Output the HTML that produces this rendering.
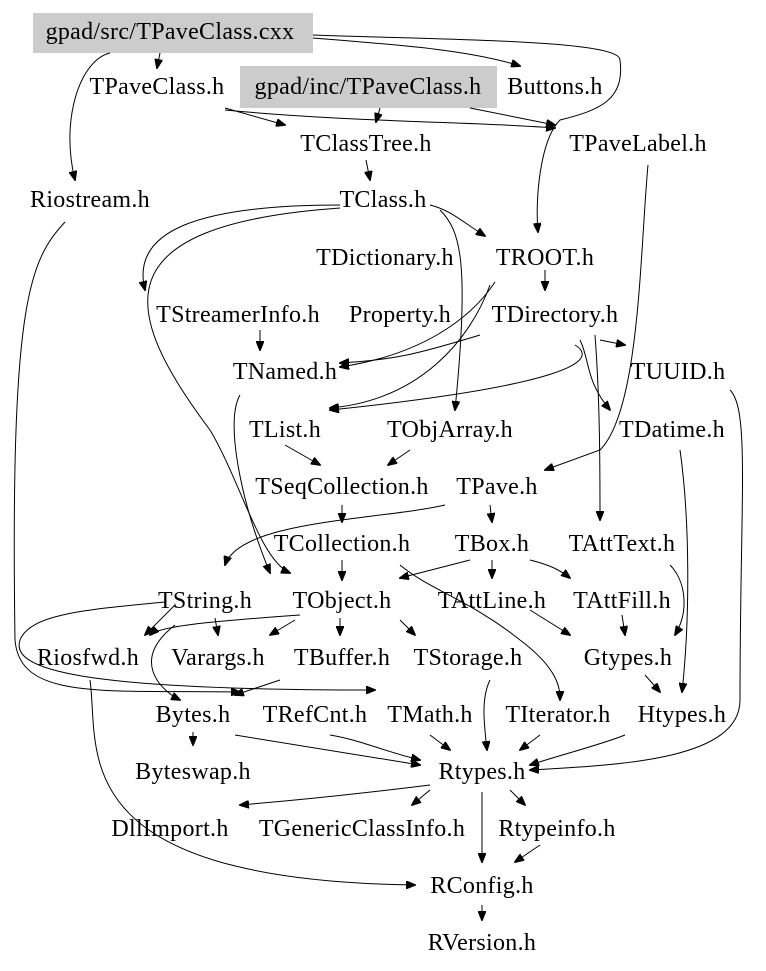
<!DOCTYPE html>
<html><head><meta charset="utf-8"><style>
html,body{margin:0;padding:0;background:#fff;}
svg{display:block}
text{font-family:"Liberation Serif",serif;font-size:24px;letter-spacing:0.3px;fill:#000;text-anchor:middle}
path{fill:none;stroke:#000;stroke-width:1}
</style></head><body>
<svg width="766" height="971" viewBox="0 0 766 971" xmlns="http://www.w3.org/2000/svg">
<defs><marker id="a" markerWidth="10" markerHeight="8" refX="9" refY="4" orient="auto" markerUnits="userSpaceOnUse"><path d="M0,0 L10,4 L0,8 z" style="fill:#000;stroke:#000"/></marker></defs>
<rect x="33" y="13" width="280" height="40" fill="#cccccc"/>
<rect x="240" y="66" width="257" height="42" fill="#cccccc"/>
<g marker-end="url(#a)">
<path d="M110,53 C80,60 60,120 75,180"/>
<path d="M160,53 L157,68"/>
<path d="M313,38 C400,45 470,50 520,66"/>
<path d="M313,35 C450,40 620,40 620,60 C625,100 600,110 560,120 C540,140 535,200 538,232"/>
<path d="M225,108 L285,125"/>
<path d="M225,110 C350,122 480,122 555,128"/>
<path d="M380,108 L376,122"/>
<path d="M470,108 L555,125"/>
<path d="M366,160 L370,180"/>
<path d="M430,205 C450,210 460,220 485,236"/>
<path d="M440,210 C460,230 470,260 455,410"/>
<path d="M340,205 C200,205 130,230 145,290"/>
<path d="M340,208 C100,225 120,310 210,430 C240,480 260,560 290,573"/>
<path d="M545,270 L545,290"/>
<path d="M495,282 C470,320 420,355 340,367"/>
<path d="M490,285 C470,340 420,400 330,408"/>
<path d="M480,335 C430,350 400,360 340,363"/>
<path d="M575,345 C600,360 570,385 330,410"/>
<path d="M580,340 C590,360 585,380 610,410"/>
<path d="M600,340 L625,345"/>
<path d="M260,330 L260,350"/>
<path d="M240,395 C225,420 240,500 270,573"/>
<path d="M285,445 L320,465"/>
<path d="M410,450 L388,465"/>
<path d="M342,505 L342,522"/>
<path d="M342,560 L342,580"/>
<path d="M490,505 L492,522"/>
<path d="M445,505 C380,520 240,520 225,565"/>
<path d="M648,165 C640,250 640,410 600,450 L545,470"/>
<path d="M595,335 C600,400 600,470 600,520"/>
<path d="M470,560 L400,578"/>
<path d="M492,560 L492,578"/>
<path d="M530,560 C550,565 560,570 570,578"/>
<path d="M400,565 C430,590 470,600 520,640 C560,670 560,690 560,700"/>
<path d="M530,610 L570,635"/>
<path d="M622,615 L625,635"/>
<path d="M670,565 C685,580 690,610 675,635"/>
<path d="M645,675 L660,692"/>
<path d="M680,450 C690,520 690,620 682,692"/>
<path d="M730,390 C750,410 740,500 740,700 C740,760 620,765 530,770"/>
<path d="M175,605 L145,635"/>
<path d="M215,618 L218,635"/>
<path d="M165,602 C80,610 30,615 20,640 C10,670 80,690 375,690"/>
<path d="M175,625 C130,660 160,690 180,700"/>
<path d="M300,615 C230,620 160,625 150,635"/>
<path d="M295,620 L270,635"/>
<path d="M340,618 L340,635"/>
<path d="M400,620 L415,635"/>
<path d="M280,680 L235,695"/>
<path d="M193,732 L193,745"/>
<path d="M235,735 C300,745 360,755 420,765"/>
<path d="M330,735 C360,740 380,750 420,760"/>
<path d="M430,735 L450,750"/>
<path d="M490,680 C480,700 485,730 487,750"/>
<path d="M540,735 L520,750"/>
<path d="M625,735 C600,745 560,755 530,765"/>
<path d="M430,785 C350,795 300,800 240,805"/>
<path d="M430,790 L412,805"/>
<path d="M510,790 L525,805"/>
<path d="M482,792 L482,862"/>
<path d="M540,845 L515,862"/>
<path d="M90,680 C100,750 60,880 415,885"/>
<path d="M65,222 C30,260 10,300 15,640 C20,700 100,690 240,692"/>
<path d="M482,905 L482,920"/>
</g>
<text x="170" y="39">gpad/src/TPaveClass.cxx</text>
<text x="157" y="94">TPaveClass.h</text>
<text x="368" y="94">gpad/inc/TPaveClass.h</text>
<text x="555" y="94">Buttons.h</text>
<text x="366" y="151">TClassTree.h</text>
<text x="638" y="151">TPaveLabel.h</text>
<text x="90" y="207">Riostream.h</text>
<text x="383" y="207">TClass.h</text>
<text x="385" y="265">TDictionary.h</text>
<text x="545" y="265">TROOT.h</text>
<text x="238" y="322">TStreamerInfo.h</text>
<text x="400" y="322">Property.h</text>
<text x="555" y="322">TDirectory.h</text>
<text x="285" y="379">TNamed.h</text>
<text x="678" y="379">TUUID.h</text>
<text x="285" y="437">TList.h</text>
<text x="450" y="437">TObjArray.h</text>
<text x="672" y="437">TDatime.h</text>
<text x="342" y="494">TSeqCollection.h</text>
<text x="497" y="494">TPave.h</text>
<text x="342" y="551">TCollection.h</text>
<text x="492" y="551">TBox.h</text>
<text x="622" y="551">TAttText.h</text>
<text x="205" y="608">TString.h</text>
<text x="342" y="608">TObject.h</text>
<text x="492" y="608">TAttLine.h</text>
<text x="622" y="608">TAttFill.h</text>
<text x="88" y="665">Riosfwd.h</text>
<text x="218" y="665">Varargs.h</text>
<text x="342" y="665">TBuffer.h</text>
<text x="468" y="665">TStorage.h</text>
<text x="628" y="665">Gtypes.h</text>
<text x="193" y="722">Bytes.h</text>
<text x="315" y="722">TRefCnt.h</text>
<text x="430" y="722">TMath.h</text>
<text x="558" y="722">TIterator.h</text>
<text x="682" y="722">Htypes.h</text>
<text x="193" y="779">Byteswap.h</text>
<text x="482" y="779">Rtypes.h</text>
<text x="170" y="836">DllImport.h</text>
<text x="362" y="836">TGenericClassInfo.h</text>
<text x="557" y="836">Rtypeinfo.h</text>
<text x="482" y="893">RConfig.h</text>
<text x="482" y="950">RVersion.h</text>
</svg>
</body></html>
